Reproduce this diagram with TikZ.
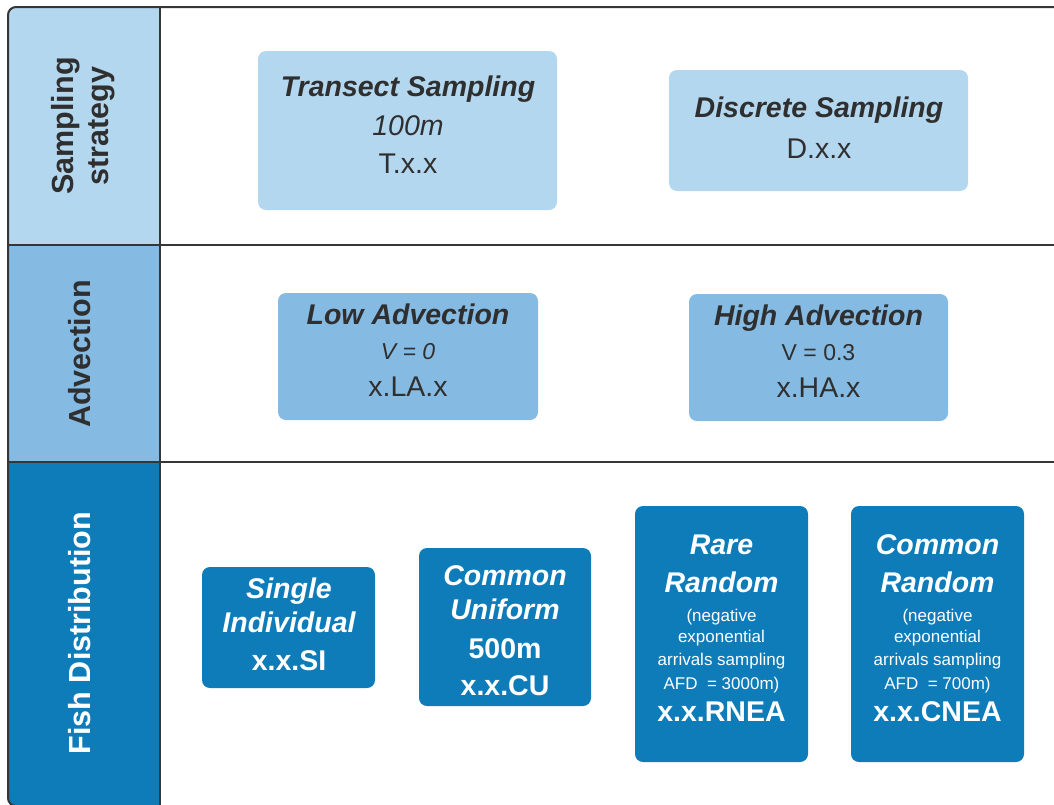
\documentclass[tikz,border=0pt]{standalone}
\usepackage{fontspec}
\setmainfont{Liberation Sans}
\definecolor{bandA}{HTML}{B4D7F0}
\definecolor{bandB}{HTML}{85BBE3}
\definecolor{bandC}{HTML}{0F7CBA}
\definecolor{ink}{HTML}{2F2F2F}
\definecolor{rulecol}{HTML}{363636}
\tikzset{
  frameline/.style={draw=rulecol, line width=2pt},
  card/.style={rounded corners=8pt, inner sep=0pt, draw=none},
  cardA/.style={card, fill=bandA},
  cardB/.style={card, fill=bandB},
  cardC/.style={card, fill=bandC},
  txt/.style={anchor=north, inner sep=0pt, align=center,
    font={\fontsize{28.5}{0}\selectfont\lineskiplimit=-1000pt\lineskip=0pt}},
  darktxt/.style={txt, text=ink},
  lighttxt/.style={txt, text=white},
  hdr/.style={inner sep=0pt, align=center, rotate=90,
    font={\bfseries\fontsize{30.5}{0}\selectfont\lineskiplimit=-1000pt\lineskip=0pt}},
}
\newcommand{\bi}{\bfseries\itshape}
\newcommand{\smtxt}{\fontsize{17}{0}\selectfont}
\begin{document}
\begin{tikzpicture}[x=1pt,y=-1pt]
\useasboundingbox (0,0) rectangle (1054,804);
% header column fills
\begin{scope}
  \clip[rounded corners=8pt] (8,7) rectangle (1080,806);
  \fill[bandA] (8,7) rectangle (160,245);
  \fill[bandB] (8,245) rectangle (160,462);
  \fill[bandC] (8,462) rectangle (160,806);
\end{scope}
% table lines
\draw[frameline, rounded corners=8pt] (8,7) rectangle (1080,806);
\draw[frameline] (160,7) -- (160,806);
\draw[frameline] (8,245) -- (1080,245);
\draw[frameline] (8,462) -- (1080,462);

% row headers
\node[hdr, text=ink] (h1) at (83,126) {Sampling\\[35pt]strategy};
\node[hdr, text=ink] (h2) at (80,354) {Advection};
\node[hdr, text=white] (h3) at (80,633) {Fish Distribution};

% row 1: sampling strategy
\node[cardA, minimum width=299pt, minimum height=159pt] (ts) at (407.5,130.5) {};
\node[darktxt] (tst) at (408,75.5) {{\bi Transect Sampling}\\[39pt]{\itshape 100m}\\[38pt]T.x.x};
\node[cardA, minimum width=299pt, minimum height=121pt] (ds) at (818.5,130.5) {};
\node[darktxt] (dst) at (819,96.5) {{\bi Discrete Sampling}\\[41pt]D.x.x};

% row 2: advection
\node[cardB, minimum width=260pt, minimum height=127pt] (la) at (408,356.5) {};
\node[darktxt] (lat) at (408,303.5) {{\bi Low Advection}\\[35pt]{\itshape\fontsize{23}{0}\selectfont V = 0}\\[37pt]x.LA.x};
\node[cardB, minimum width=259pt, minimum height=127pt] (ha) at (818.5,357.5) {};
\node[darktxt] (hat) at (818.5,304.5) {{\bi High Advection}\\[35pt]{\fontsize{23}{0}\selectfont V = 0.3}\\[37pt]x.HA.x};

% row 3: fish distribution
\node[cardC, minimum width=173pt, minimum height=121pt] (si) at (288.5,627.5) {};
\node[lighttxt] (sit) at (289,577.5) {{\bi Single}\\[34pt]{\bi Individual}\\[38pt]{\bfseries x.x.SI}};
\node[cardC, minimum width=172pt, minimum height=158pt] (cu) at (505,627) {};
\node[lighttxt] (cut) at (505,565) {{\bi Common}\\[34pt]{\bi Uniform}\\[39pt]{\bfseries 500m}\\[37pt]{\bfseries x.x.CU}};
\node[cardC, minimum width=173pt, minimum height=256pt] (rr) at (721.5,634) {};
\node[lighttxt] (rrt) at (721.5,534.5) {{\bi Rare}\\[38pt]{\bi Random}\\[29pt]{\smtxt (negative}\\[20.7pt]{\smtxt exponential}\\[23.3pt]{\smtxt arrivals sampling}\\[23.7pt]{\smtxt AFD\ \ = 3000m)}\\[32.3pt]{\bfseries x.x.RNEA}};
\node[cardC, minimum width=173pt, minimum height=256pt] (cr) at (937.5,634) {};
\node[lighttxt] (crt) at (937.5,534.5) {{\bi Common}\\[38pt]{\bi Random}\\[29pt]{\smtxt (negative}\\[20.7pt]{\smtxt exponential}\\[23.3pt]{\smtxt arrivals sampling}\\[23.7pt]{\smtxt AFD\ \ = 700m)}\\[32.3pt]{\bfseries x.x.CNEA}};
\end{tikzpicture}
\end{document}
